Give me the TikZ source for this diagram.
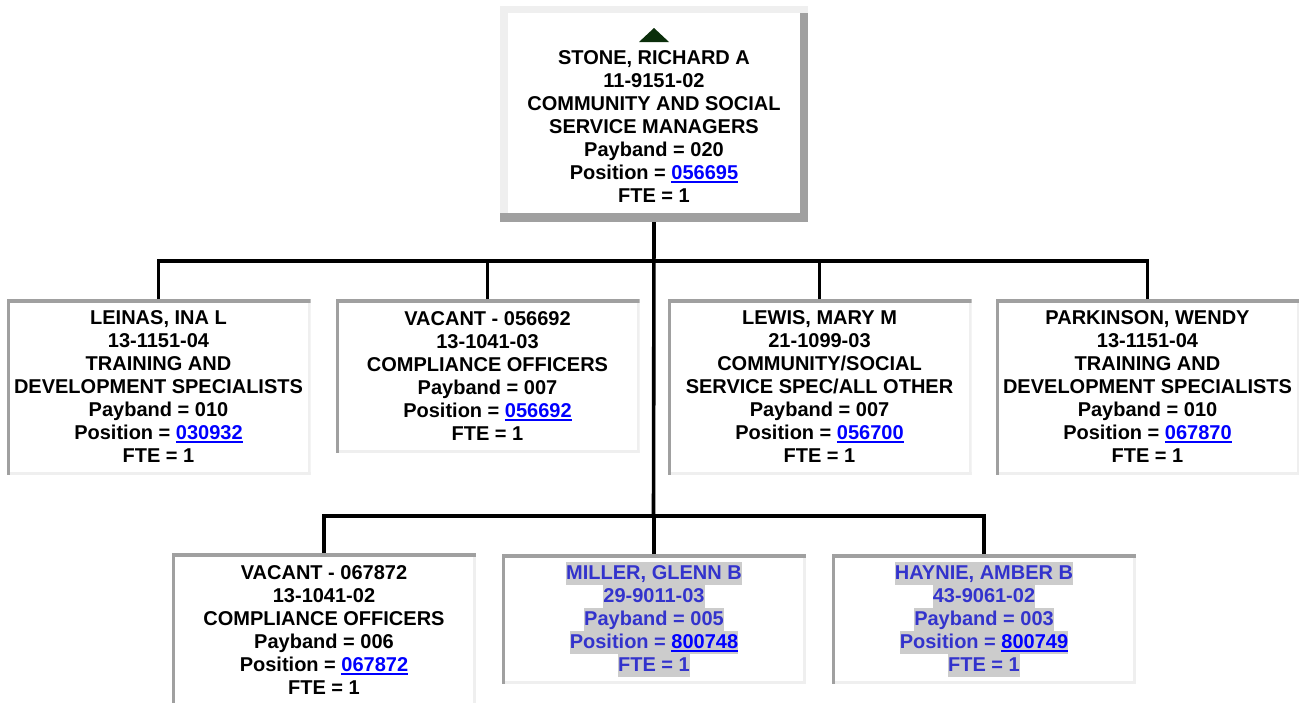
\documentclass[tikz,border=0pt]{standalone}
\usepackage{fontspec}
\setmainfont{Liberation Sans}
\usetikzlibrary{positioning, calc}

\definecolor{edgedark}{HTML}{A0A0A0}
\definecolor{edgelight}{HTML}{EFEFEF}
\definecolor{hlgray}{HTML}{CCCCCC}
\definecolor{linkblue}{HTML}{0000FF}
\definecolor{temptext}{HTML}{3333CC}
\definecolor{upgreen}{HTML}{0B2E0B}

\newcommand\poslink[1]{{\color{linkblue}\setbox0\hbox{#1}\rlap{\rule[-1.6pt]{\wd0}{0.9pt}}\box0}}
\newcommand\hl[1]{{\setlength{\fboxsep}{0pt}\colorbox{hlgray}{\rule[-2.3pt]{0pt}{11.5pt}#1}}}

\begin{document}
\begin{tikzpicture}[
  x=0.5pt, y=-0.5pt,
  every node/.style={font=\fontsize{10}{11.5}\selectfont\bfseries, align=center,
                     inner sep=0pt, outer sep=0pt},
  inset/.style={rectangle, fill=white, minimum width=152pt, anchor=north,
    path picture={
      \fill[edgedark] (path picture bounding box.north west) rectangle ([yshift=-2pt]path picture bounding box.north east);
      \fill[edgedark] (path picture bounding box.north west) rectangle ([xshift=1.6pt]path picture bounding box.south west);
      \fill[edgelight] ([yshift=-2pt]path picture bounding box.north east) rectangle ([xshift=-1.5pt]path picture bounding box.south east);
      \fill[edgelight] ([xshift=1.6pt]path picture bounding box.south west) rectangle ([yshift=1.5pt]path picture bounding box.south east);
    }},
  outset/.style={rectangle, fill=white, minimum width=154pt, minimum height=108pt, anchor=north,
    path picture={
      \fill[edgelight] (path picture bounding box.north west) rectangle ([yshift=-3.6pt]path picture bounding box.north east);
      \fill[edgelight] (path picture bounding box.north west) rectangle ([xshift=3.8pt]path picture bounding box.south west);
      \fill[edgedark] ([yshift=-3.6pt,xshift=-4pt]path picture bounding box.north east) rectangle (path picture bounding box.south east);
      \fill[edgedark] ([yshift=4.5pt]path picture bounding box.south west) rectangle (path picture bounding box.south east);
    }},
  lines7/.style={minimum height=88pt},
  lines6/.style={minimum height=77pt},
  lines5/.style={minimum height=65pt},
  temp/.style={text=temptext},
  conn/.style={line width=1.8pt}
]
\useasboundingbox (0,0) rectangle (1299,702);

% Manager
\node[outset] (boss) at (654,6)
  {\strut\\ STONE, RICHARD A\\ 11-9151-02\\ COMMUNITY AND SOCIAL\\ SERVICE MANAGERS\\
   Payband = 020\\ Position = \poslink{056695}\\ FTE = 1};
\fill[upgreen] ($(boss.north)+(-15,36)$) -- ($(boss.north)+(15,36)$) -- ($(boss.north)+(0,22)$) -- cycle;

% First row
\node[inset, lines7] (leinas) at (158.5,299)
  {LEINAS, INA L\\ 13-1151-04\\ TRAINING AND\\ DEVELOPMENT SPECIALISTS\\
   Payband = 010\\ Position = \poslink{030932}\\ FTE = 1};
\node[inset, lines6] (vacantA) at (487.5,299)
  {VACANT - 056692\\ 13-1041-03\\ COMPLIANCE OFFICERS\\
   Payband = 007\\ Position = \poslink{056692}\\ FTE = 1};
\node[inset, lines7] (lewis) at (819.5,299)
  {LEWIS, MARY M\\ 21-1099-03\\ COMMUNITY/SOCIAL\\ SERVICE SPEC/ALL OTHER\\
   Payband = 007\\ Position = \poslink{056700}\\ FTE = 1};
\node[inset, lines7] (parkinson) at (1147.5,299)
  {PARKINSON, WENDY\\ 13-1151-04\\ TRAINING AND\\ DEVELOPMENT SPECIALISTS\\
   Payband = 010\\ Position = \poslink{067870}\\ FTE = 1};

% Second row
\node[inset, lines6] (vacantB) at (324,553)
  {VACANT - 067872\\ 13-1041-02\\ COMPLIANCE OFFICERS\\
   Payband = 006\\ Position = \poslink{067872}\\ FTE = 1};
\node[inset, lines5, temp] (miller) at (654,554)
  {\hl{MILLER, GLENN B}\\ \hl{29-9011-03}\\ \hl{Payband = 005}\\
   \hl{Position = \poslink{800748}}\\ \hl{FTE = 1}};
\node[inset, lines5, temp] (haynie) at (984,554)
  {\hl{HAYNIE, AMBER B}\\ \hl{43-9061-02}\\ \hl{Payband = 003}\\
   \hl{Position = \poslink{800749}}\\ \hl{FTE = 1}};

% Connectors
\coordinate (bus1) at (653.5,261);
\coordinate (bus2) at (653.5,516);
\draw[conn] (boss.south) -- (bus2);
\foreach \n in {leinas, vacantA, lewis, parkinson}
  \draw[conn] (\n.north) |- (bus1);
\foreach \n in {vacantB, miller, haynie}
  \draw[conn] (\n.north) |- (bus2);
\end{tikzpicture}
\end{document}
